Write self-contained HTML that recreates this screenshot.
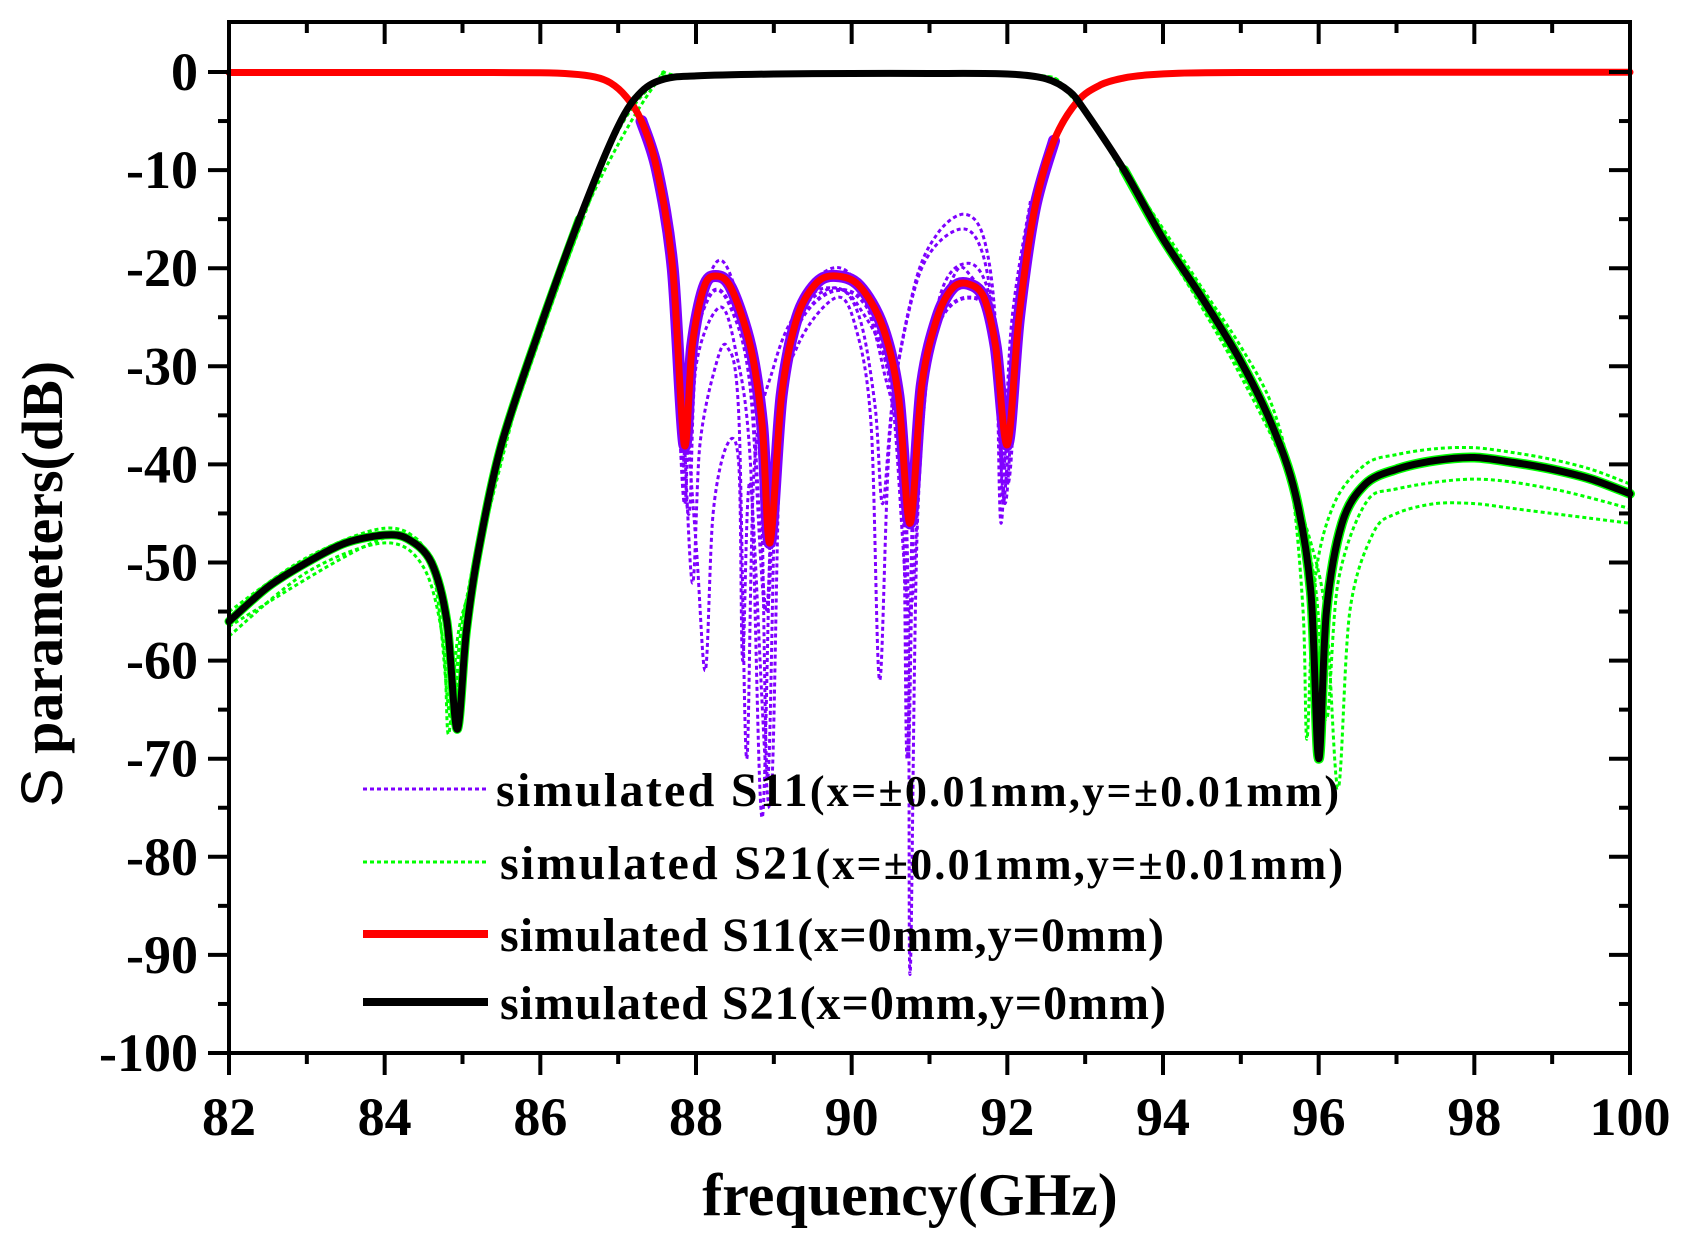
<!DOCTYPE html>
<html><head><meta charset="utf-8"><style>
html,body{margin:0;padding:0;background:#fff;}
svg{display:block;}
.tk{font-family:"Liberation Serif",serif;font-weight:bold;font-size:54px;fill:#000;}
.lg{font-family:"Liberation Serif",serif;font-weight:bold;font-size:48px;fill:#000;}
</style></head><body>
<svg id="chart" width="1683" height="1243" viewBox="0 0 1683 1243" xmlns="http://www.w3.org/2000/svg">
<rect width="1683" height="1243" fill="#fff"/>
<g id="series"></g>
<g id="axes"></g>
<g id="legend"></g>
<text x="910" y="1215" text-anchor="middle" font-family="Liberation Serif, serif" font-weight="bold" font-size="60">frequency(GHz)</text>
<text transform="translate(62,584) rotate(-90)" text-anchor="middle" font-family="Liberation Serif, serif" font-weight="bold" font-size="58"><tspan font-family="Liberation Sans, sans-serif" font-weight="normal">S</tspan> parameters(dB)</text>
</svg>
<script>
const xTicks = [82,84,86,88,90,92,94,96,98,100];
const yTicks = [0,-10,-20,-30,-40,-50,-60,-70,-80,-90,-100];
const s21Nominal = [[82,-56],[82.5,-52.5],[83,-50],[83.5,-48],[84,-47.2],[84.3,-47.6],[84.6,-50],[84.8,-56],[84.93,-67],[85.05,-57],[85.2,-49],[85.5,-38],[86,-26],[86.5,-15],[87,-5.5],[87.3,-2],[87.6,-0.7],[88,-0.4],[89,-0.2],[90,-0.15],[91,-0.15],[92,-0.2],[92.5,-0.7],[92.8,-2],[93,-4],[93.5,-10],[94,-17],[94.5,-23],[95,-29.5],[95.4,-36],[95.7,-43],[95.9,-53],[96,-70],[96.1,-55],[96.3,-46],[96.6,-42],[97,-40.5],[97.5,-39.6],[98,-39.3],[98.5,-39.8],[99,-40.5],[99.5,-41.5],[100,-43]];
const s11Nominal = [[82,-0.05],[84,-0.05],[85,-0.05],[86,-0.08],[86.4,-0.2],[86.7,-0.5],[86.9,-1.1],[87.1,-2.5],[87.3,-5],[87.5,-10],[87.7,-20],[87.85,-38],[87.95,-28],[88.1,-22],[88.25,-20.8],[88.45,-22],[88.7,-28],[88.85,-36],[88.95,-48],[89.1,-33],[89.3,-25],[89.55,-21.5],[89.8,-20.8],[90.1,-21.8],[90.4,-26],[90.6,-33],[90.75,-46],[90.9,-32],[91.1,-25],[91.3,-22],[91.5,-21.6],[91.7,-23],[91.85,-28],[92.0,-38],[92.15,-25],[92.35,-14],[92.6,-7],[92.9,-3],[93.2,-1.3],[93.5,-0.6],[93.8,-0.3],[94.2,-0.12],[95,-0.05],[97,-0.03],[100,-0.02]];
const s11Var1 = [[87.5,-10],[87.7,-22],[87.85,-44],[87.95,-28],[88.25,-19.5],[88.5,-22],[88.8,-33],[88.92,-72],[89.05,-35],[89.3,-24],[89.75,-20],[90.1,-22],[90.4,-30],[90.7,-45],[90.75,-92],[90.85,-45],[91.1,-24],[91.5,-19.5],[91.8,-24],[91.95,-40],[92.1,-26],[92.35,-13]];
const s11Var2 = [[87.5,-10],[87.7,-22],[87.9,-45],[88.0,-30],[88.3,-24],[88.5,-28],[88.7,-40],[88.85,-76],[89.0,-38],[89.3,-28],[89.8,-23],[90.05,-26],[90.25,-36],[90.36,-62],[90.5,-36],[90.8,-22],[91.1,-16.5],[91.45,-14.5],[91.7,-17],[91.85,-26],[91.92,-46],[92.05,-26],[92.3,-13]];
const s11Var3 = [[87.6,-14],[87.8,-30],[87.95,-52],[88.05,-38],[88.25,-30],[88.4,-28],[88.55,-35],[88.65,-70],[88.75,-40],[89.0,-30],[89.3,-24.5],[89.8,-22],[90.1,-25],[90.3,-34],[90.4,-44],[90.55,-32],[90.9,-20],[91.4,-16],[91.7,-19],[91.88,-30],[91.95,-44],[92.1,-27],[92.3,-14]];
const s11Var4 = [[87.6,-13],[87.8,-28],[88.0,-48],[88.12,-61],[88.22,-45],[88.4,-38],[88.55,-40],[88.6,-60],[88.7,-42],[88.95,-75],[89.1,-35],[89.4,-24],[89.75,-22],[90.1,-24],[90.5,-32],[90.75,-55],[90.95,-30],[91.3,-21],[91.5,-20.5],[91.8,-26],[91.97,-44],[92.12,-26],[92.35,-14]];
const s11Var5 = [[87.5,-10],[87.7,-21],[87.83,-40],[87.93,-29],[88.2,-22.5],[88.45,-24],[88.7,-32],[88.9,-55],[89.05,-34],[89.3,-26],[89.7,-22.5],[90.1,-23],[90.4,-28],[90.65,-40],[90.72,-70],[90.82,-38],[91.1,-26],[91.5,-23],[91.8,-26],[92.0,-42],[92.15,-25],[92.35,-14]];
const s21Var1 = [[82,-57.5],[83,-51],[84,-48],[84.5,-50.5],[84.75,-58],[84.82,-67.5],[84.95,-57],[85.2,-50],[85.5,-39],[86,-27],[86.5,-16],[87,-6],[87.5,-1],[88,-0.4],[92,-0.2],[92.8,-2],[93.5,-10],[94.5,-22],[95,-28],[95.4,-34],[95.65,-42],[95.8,-55],[95.85,-68],[95.95,-52],[96.2,-44],[96.6,-40],[97,-39],[97.5,-38.4],[98,-38.3],[98.5,-38.8],[99,-39.5],[99.5,-40.5],[100,-42]];
const s21Var2 = [[82,-55],[83,-49.5],[84,-46.5],[84.5,-48.5],[84.8,-55],[84.9,-66],[85.0,-56],[85.3,-46],[86,-25.5],[87,-5.2],[87.5,-1],[88,-0.4],[92,-0.2],[92.8,-2],[93.5,-10.5],[94.5,-24],[95,-31],[95.5,-39],[95.9,-48],[96.1,-56],[96.25,-73],[96.4,-55],[96.7,-47],[97,-45],[97.5,-44],[98,-44],[98.5,-44.5],[99,-45],[99.5,-45.5],[100,-46]];
const s21Var3 = [[82,-56.5],[84,-47.5],[84.6,-50.5],[84.85,-66],[85.0,-56],[85.5,-38],[86.5,-15.5],[87.5,-1],[88,-0.4],[92,-0.2],[93,-4.2],[94,-17.5],[95,-30.5],[95.6,-40],[95.95,-52],[96.1,-66],[96.25,-52],[96.6,-44],[97,-42.5],[98,-41.5],[99,-42.5],[100,-44.5]];

const X0=229,X1=1630,Y0=72,Y1=1053;
const xs = f => X0 + (f-82)/(100-82)*(X1-X0);
const ys = d => Y0 + (0-d)/(100)*(Y1-Y0);
const NS='http://www.w3.org/2000/svg';
const series=document.getElementById('series');
const axes=document.getElementById('axes');
const legend=document.getElementById('legend');
function mk(tag,attrs,parent){const e=document.createElementNS(NS,tag);for(const k in attrs)e.setAttribute(k,attrs[k]);parent.appendChild(e);return e;}
function pathD(arr){
  const P=arr.map(p=>[xs(p[0]),ys(p[1])]);
  let d='M'+P[0][0].toFixed(1)+','+P[0][1].toFixed(1);
  const t=0.16;
  for(let i=0;i<P.length-1;i++){
    const p0=P[Math.max(0,i-1)],p1=P[i],p2=P[i+1],p3=P[Math.min(P.length-1,i+2)];
    const c1=[p1[0]+(p2[0]-p0[0])*t,p1[1]+(p2[1]-p0[1])*t];
    const c2=[p2[0]-(p3[0]-p1[0])*t,p2[1]-(p3[1]-p1[1])*t];
    d+=' C'+c1[0].toFixed(1)+','+c1[1].toFixed(1)+' '+c2[0].toFixed(1)+','+c2[1].toFixed(1)+' '+p2[0].toFixed(1)+','+p2[1].toFixed(1);
  }
  return d;
}
function line(arr,color,w,dash,name){
  const e=mk('path',{d:pathD(arr),fill:'none',stroke:color,'stroke-width':w,'stroke-linejoin':'round','stroke-linecap':'round'},series);
  if(dash){e.setAttribute('stroke-dasharray',dash);e.setAttribute('stroke-linecap','butt');}
  
  
}
const PUR='#7f00ff', GRN='#00ff00';
line(s21Var1,GRN,3,'4,3','s21-variant-1');
line(s21Var2,GRN,3,'4,3','s21-variant-2');
line(s21Var3,GRN,3,'4,3','s21-variant-3');
line(s21Nominal.filter(p=>p[0]<=86.5),GRN,9,null,'s21-variant-band-low');
line(s21Nominal.filter(p=>p[0]>=93.5),GRN,10,null,'s21-variant-band-high');
line(s11Var1,PUR,3,'4,3','s11-variant-1');
line(s11Var2,PUR,3,'4,3','s11-variant-2');
line(s11Var3,PUR,3,'4,3','s11-variant-3');
line(s11Var4,PUR,3,'4,3','s11-variant-4');
line(s11Var5,PUR,4,'4,3','s11-variant-5');
line(s11Nominal.filter(p=>p[0]>=87.3&&p[0]<=92.6),PUR,12,null,'s11-variant-band');
line(s11Nominal,'#ff0000',7,null,'s11-nominal-line');
line(s21Nominal,'#000000',7,null,'s21-nominal-line');

const fr=mk('rect',{x:X0,y:22,width:X1-X0,height:Y1-22,fill:'none',stroke:'#000','stroke-width':4},axes);


for(let f=82;f<=100;f+=1){
  const major=(f%2===0), x=xs(f), L=major?22:11;
  mk('line',{x1:x,y1:Y1,x2:x,y2:Y1+L,stroke:'#000','stroke-width':4},axes);
  mk('line',{x1:x,y1:22,x2:x,y2:22+L,stroke:'#000','stroke-width':4},axes);
}
xTicks.forEach(t=>{
  const e=mk('text',{x:xs(t),y:1135,'text-anchor':'middle',class:'tk'},axes);
  e.textContent=t;
  
  
});
for(let d=0;d>=-100;d-=5){
  const major=(d%10===0), y=ys(d), L=major?21:11;
  mk('line',{x1:X0-L,y1:y,x2:X0,y2:y,stroke:'#000','stroke-width':4},axes);
  mk('line',{x1:X1,y1:y,x2:X1-L,y2:y,stroke:'#000','stroke-width':4},axes);
}
yTicks.forEach(t=>{
  const e=mk('text',{x:198,y:ys(t)+18,'text-anchor':'end',class:'tk'},axes);
  e.textContent=t;
  
  
});

const leg=[
 {c:PUR,w:3,d:'4,3',y:789,a:'simulated S11',b:'(x=±0.01mm,y=±0.01mm)',tx:496,len:843,n:'legend-entry-s11-variants'},
 {c:GRN,w:3,d:'4,3',y:862,a:'simulated S21',b:'(x=±0.01mm,y=±0.01mm)',tx:500,len:843,n:'legend-entry-s21-variants'},
 {c:'#ff0000',w:8,d:null,y:934,a:'simulated S11(x=0mm,y=0mm)',b:'',tx:500,len:664,n:'legend-entry-s11-nominal'},
 {c:'#000000',w:8,d:null,y:1002,a:'simulated S21(x=0mm,y=0mm)',b:'',tx:500,len:666,n:'legend-entry-s21-nominal'}
];
leg.forEach(o=>{
  const g=mk('g',{},legend);
  
  
  const l=mk('line',{x1:363,y1:o.y,x2:488,y2:o.y,stroke:o.c,'stroke-width':o.w},g);
  if(o.d)l.setAttribute('stroke-dasharray',o.d);
  const t=mk('text',{x:o.tx,y:o.y+17,class:'lg',textLength:o.len,lengthAdjust:'spacing'},g);
  const s1=mk('tspan',{},t); s1.textContent=o.a;
  if(o.b){const s2=mk('tspan',{'font-size':'44'},t); s2.textContent=o.b;}
});
</script>
</body></html>
